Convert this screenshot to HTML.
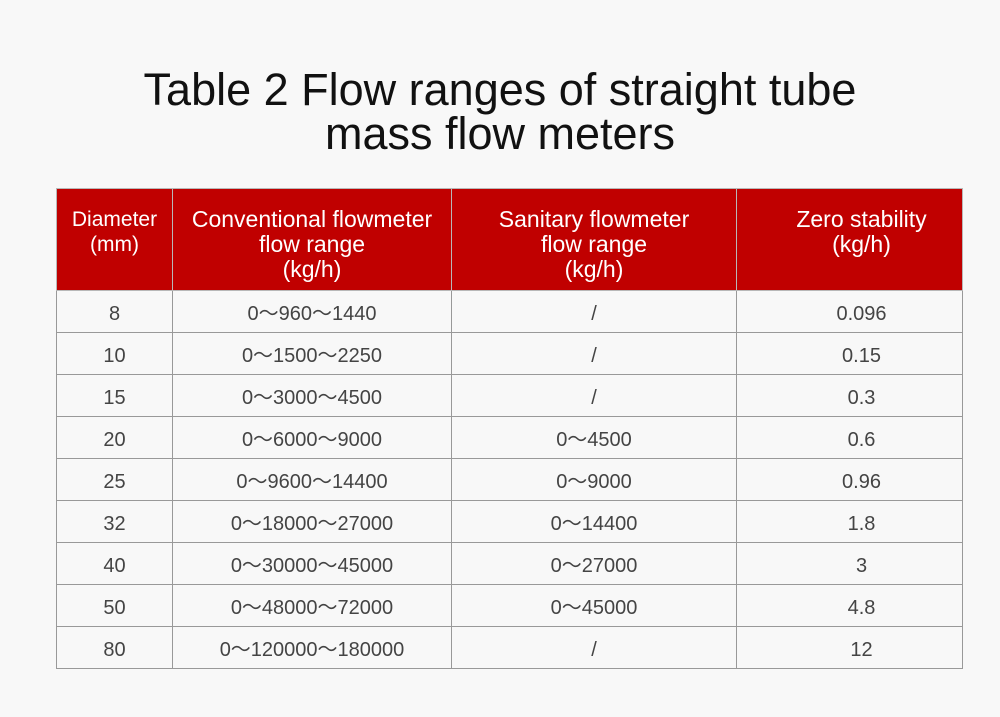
<!DOCTYPE html>
<html><head><meta charset="utf-8"><style>
body{margin:0;width:1000px;height:717px;background:#f8f8f8;font-family:"Liberation Sans",sans-serif;position:relative;overflow:hidden}
h1{position:absolute;top:68px;left:0;width:1000px;margin:0;text-align:center;font-weight:normal;font-size:45px;line-height:44px;color:#111}
table{position:absolute;left:56px;top:188px;border-collapse:collapse;width:906px;table-layout:fixed}
td,th{border:1px solid #999;text-align:center;font-size:20px;line-height:22px;color:#444;padding:0;height:41px;vertical-align:middle}
td span{display:inline-block;line-height:22px;height:22px;vertical-align:middle;position:relative;top:2px}
th{background:#c00000;color:#fff;font-weight:normal;height:102px;font-size:23px;line-height:25px;border-color:#b8b8b8;vertical-align:top;padding-top:18px;box-sizing:border-box}
th.d{font-size:21px;line-height:25px}
.z{padding-left:24px}
</style></head><body>
<h1>Table 2 Flow ranges of straight tube<br>mass flow meters</h1>
<table>
<colgroup><col style="width:116px"><col style="width:279px"><col style="width:285px"><col style="width:226px"></colgroup>
<tr><th class="d">Diameter<br>(mm)</th><th>Conventional flowmeter<br>flow range<br>(kg/h)</th><th>Sanitary flowmeter<br>flow range<br>(kg/h)</th><th class="z">Zero stability<br>(kg/h)</th></tr>
<tr><td><span>8</span></td><td><span>0～960～1440</span></td><td><span>/</span></td><td class="z"><span>0.096</span></td></tr>
<tr><td><span>10</span></td><td><span>0～1500～2250</span></td><td><span>/</span></td><td class="z"><span>0.15</span></td></tr>
<tr><td><span>15</span></td><td><span>0～3000～4500</span></td><td><span>/</span></td><td class="z"><span>0.3</span></td></tr>
<tr><td><span>20</span></td><td><span>0～6000～9000</span></td><td><span>0～4500</span></td><td class="z"><span>0.6</span></td></tr>
<tr><td><span>25</span></td><td><span>0～9600～14400</span></td><td><span>0～9000</span></td><td class="z"><span>0.96</span></td></tr>
<tr><td><span>32</span></td><td><span>0～18000～27000</span></td><td><span>0～14400</span></td><td class="z"><span>1.8</span></td></tr>
<tr><td><span>40</span></td><td><span>0～30000～45000</span></td><td><span>0～27000</span></td><td class="z"><span>3</span></td></tr>
<tr><td><span>50</span></td><td><span>0～48000～72000</span></td><td><span>0～45000</span></td><td class="z"><span>4.8</span></td></tr>
<tr><td><span>80</span></td><td><span>0～120000～180000</span></td><td><span>/</span></td><td class="z"><span>12</span></td></tr>
</table>
</body></html>
